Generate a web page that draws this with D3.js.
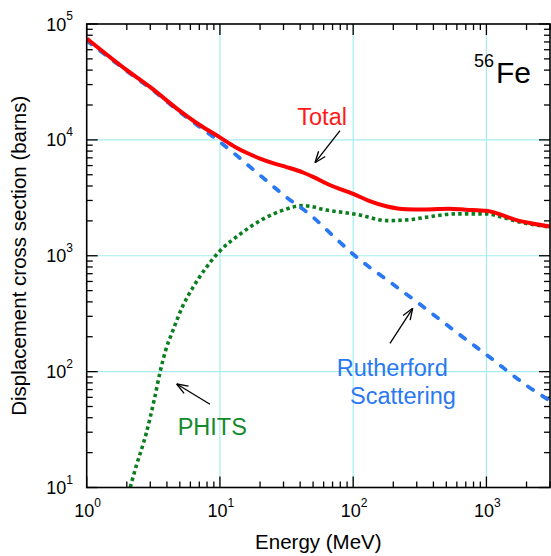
<!DOCTYPE html>
<html>
<head>
<meta charset="utf-8">
<script src="https://cdn.jsdelivr.net/npm/d3@7"></script>
<style>
  body { margin: 0; background: #fff; }
  text { font-family: "Liberation Sans", Arial, Helvetica, sans-serif; }
</style>
</head>
<body>
<div id="chart"></div>
<script>
// Rutherford scattering (dashed blue)
const rutherfordE = [1, 2, 3, 5, 7, 10, 20, 30, 50, 70, 100, 200, 300, 500, 700, 1000, 2000, 3000];
const rutherfordV = [72000, 39300, 27900, 17400, 13000, 9600, 4950, 3350, 2150, 1500, 1030, 565, 400, 255, 190, 140, 76, 56];

// Total (solid red)
const totalE = [1, 2, 3, 5, 7, 10, 13, 16, 20, 25, 32, 42, 50, 66, 100, 133, 180, 250, 350, 525, 700, 1000, 1300, 1660, 2200, 3000];
const totalV = [75000, 40000, 28500, 17800, 13500, 10500, 8700, 7700, 6900, 6300, 5800, 5230, 4800, 4100, 3420, 2960, 2660, 2520, 2510, 2550, 2500, 2440, 2250, 2040, 1900, 1790];

// PHITS (dotted green)
const phitsE = [2.12, 2.34, 2.79, 3.21, 3.56, 3.93, 4.42, 5.25, 6.24, 7.85, 10, 14, 21, 30, 42, 63, 112, 178, 258, 353, 593, 1000, 1320, 1660, 3000];
const phitsV = [10, 15, 29, 57, 100, 155, 224, 367, 528, 785, 1100, 1520, 2070, 2480, 2710, 2480, 2250, 2010, 2040, 2150, 2300, 2300, 2150, 1990, 1770];

// axes
const xMajor = [1, 10, 100, 1000];
const xExp = ["0", "1", "2", "3"];
const yMajor = [10, 100, 1000, 10000, 100000];
const yExp = ["1", "2", "3", "4", "5"];

const width = 551, height = 556;
const pLeft = 86.7, pRight = 550, pTop = 24, pBottom = 487.5;

const x = d3.scaleLog().domain([1, 3000]).range([pLeft, pRight]);
const y = d3.scaleLog().domain([10, 1e5]).range([pBottom, pTop]);

const svg = d3.select("#chart").append("svg")
    .attr("width", width)
    .attr("height", height);

svg.append("defs").append("clipPath").attr("id", "plot")
    .append("rect")
    .attr("x", pLeft).attr("y", pTop)
    .attr("width", pRight - pLeft).attr("height", pBottom - pTop);

// grid
const grid = svg.append("g").attr("stroke", "#a6ecf0").attr("stroke-width", 1.2);
xMajor.slice(1).forEach(v => {
    grid.append("line").attr("x1", x(v)).attr("x2", x(v)).attr("y1", pTop).attr("y2", pBottom);
});
yMajor.slice(1, -1).forEach(v => {
    grid.append("line").attr("x1", pLeft).attr("x2", pRight).attr("y1", y(v)).attr("y2", y(v));
});

// minor tick values
const xMinor = [];
xMajor.forEach(d => { for (let k = 2; k <= 9; k++) if (d * k <= 3000) xMinor.push(d * k); });
const yMinor = [];
yMajor.slice(0, -1).forEach(d => { for (let k = 2; k <= 9; k++) yMinor.push(d * k); });

const ticks = svg.append("g").attr("stroke", "#000").attr("stroke-width", 1.3);
function xTick(v, len) {
    ticks.append("line").attr("x1", x(v)).attr("x2", x(v)).attr("y1", pBottom).attr("y2", pBottom - len);
    ticks.append("line").attr("x1", x(v)).attr("x2", x(v)).attr("y1", pTop).attr("y2", pTop + len);
}
function yTick(v, len) {
    ticks.append("line").attr("x1", pLeft).attr("x2", pLeft + len).attr("y1", y(v)).attr("y2", y(v));
    ticks.append("line").attr("x1", pRight).attr("x2", pRight - len).attr("y1", y(v)).attr("y2", y(v));
}
xMajor.forEach(v => xTick(v, 11));
xMinor.forEach(v => xTick(v, 6));
yMajor.forEach(v => yTick(v, 11));
yMinor.forEach(v => yTick(v, 6));

// curves
const line = d3.line()
    .x(d => x(d[0]))
    .y(d => y(d[1]))
    .curve(d3.curveMonotoneX);

const curves = svg.append("g").attr("clip-path", "url(#plot)").attr("fill", "none");

curves.append("path")
    .attr("d", line(phitsE.map((e, i) => [e, phitsV[i]])))
    .attr("stroke", "#0b7f1f")
    .attr("stroke-width", 3.6)
    .attr("stroke-dasharray", "3.5,3.2");

curves.append("path")
    .attr("d", line(rutherfordE.map((e, i) => [e, rutherfordV[i]])))
    .attr("stroke", "#2a78f2")
    .attr("stroke-width", 3.8)
    .attr("stroke-linecap", "round")
    .attr("stroke-dasharray", "6,11");

curves.append("path")
    .attr("d", line(totalE.map((e, i) => [e, totalV[i]])))
    .attr("stroke", "#ff0000")
    .attr("stroke-width", 4);

// frame
svg.append("rect")
    .attr("x", pLeft).attr("y", pTop)
    .attr("width", pRight - pLeft).attr("height", pBottom - pTop)
    .attr("fill", "none")
    .attr("stroke", "#000")
    .attr("stroke-width", 1.6);

// tick labels
xMajor.forEach((v, i) => {
    const t = svg.append("text")
        .attr("x", x(v) + 1).attr("y", 516.5)
        .attr("text-anchor", "middle")
        .attr("font-size", 18);
    t.append("tspan").text("10");
    t.append("tspan").attr("dy", -9.5).attr("font-size", 12).text(xExp[i]);
});
yMajor.forEach((v, i) => {
    const t = svg.append("text")
        .attr("x", 73).attr("y", y(v) + 6.5)
        .attr("text-anchor", "end")
        .attr("font-size", 18);
    t.append("tspan").text("10");
    t.append("tspan").attr("dy", -10.5).attr("font-size", 12).text(yExp[i]);
});

// axis titles
svg.append("text")
    .attr("x", (pLeft + pRight) / 2).attr("y", 549)
    .attr("text-anchor", "middle")
    .attr("font-size", 20.5)
    .text("Energy (MeV)");

svg.append("text")
    .attr("transform", `translate(26,${(pTop + pBottom) / 2}) rotate(-90)`)
    .attr("text-anchor", "middle")
    .attr("font-size", 20.5)
    .text("Displacement cross section (barns)");

// 56Fe
const fe = svg.append("text").attr("x", 474).attr("y", 66.7);
fe.append("tspan").attr("font-size", 18).text("56");
fe.append("tspan").attr("font-size", 30).attr("dx", 2).attr("y", 82.7).text("Fe");

// labels
svg.append("text").attr("x", 297.3).attr("y", 125).attr("font-size", 23.5)
    .attr("fill", "#ff1a1a").text("Total");
svg.append("text").attr("x", 336.7).attr("y", 376).attr("font-size", 23.5)
    .attr("fill", "#2a78f2").text("Rutherford");
svg.append("text").attr("x", 350).attr("y", 404).attr("font-size", 23.5)
    .attr("fill", "#2a78f2").text("Scattering");
svg.append("text").attr("x", 177.7).attr("y", 435).attr("font-size", 23.5)
    .attr("fill", "#148a2c").text("PHITS");

// arrows
function arrow(x1, y1, x2, y2) {
    const g = svg.append("g").attr("stroke", "#000").attr("stroke-width", 1.3).attr("fill", "none");
    g.append("line").attr("x1", x1).attr("y1", y1).attr("x2", x2).attr("y2", y2);
    const a = Math.atan2(y1 - y2, x1 - x2);
    [-0.36, 0.36].forEach(da => {
        g.append("line")
            .attr("x1", x2).attr("y1", y2)
            .attr("x2", x2 + 12 * Math.cos(a + da))
            .attr("y2", y2 + 12 * Math.sin(a + da));
    });
}
arrow(340, 130.7, 315, 162.7);
arrow(390, 343.3, 412.7, 308.3);
arrow(210, 404.3, 176.7, 384);
</script>
</body>
</html>
